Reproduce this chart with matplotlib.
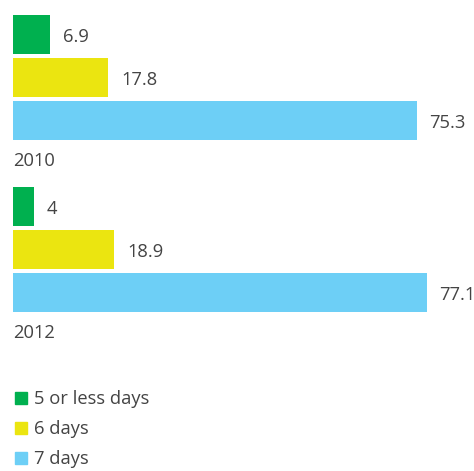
import matplotlib
matplotlib.use("Agg")
import matplotlib.pyplot as plt
from matplotlib.lines import Line2D

# data
years = ["2010", "2012"]
categories = ["5 or less days", "6 days", "7 days"]
values = {
    "2010": [6.9, 17.8, 75.3],
    "2012": [4, 18.9, 77.1],
}
colors = ["#00b04f", "#ebe510", "#6dcff6"]
text_color = "#444444"

plt.rcParams["font.family"] = ["Open Sans", "DejaVu Sans"]
fs = 13.2

W, H = 474, 471
fig = plt.figure(figsize=(W / 100, H / 100), dpi=100)
# x in data units (0 at px 13), y in pixel-like units
px_per_unit = 5.365
left_px = 13
ax = fig.add_axes([left_px / W, 0, 1 - left_px / W, 1])
ax.set_xlim(0, (W - left_px) / px_per_unit)
ax.set_ylim(H, 0)
ax.axis("off")

bar_h = 39
bar_pitch = 43
group_pitch = 172
first_center = 15 + bar_h / 2

for i, year in enumerate(years):
    base = first_center + i * group_pitch
    for j, v in enumerate(values[year]):
        yc = base + j * bar_pitch
        ax.barh(yc, v, height=bar_h, color=colors[j], left=0)
        ax.annotate(f"{v:g}", xy=(v, yc), xytext=(9, -1.5), textcoords="offset points",
                    va="center", ha="left", fontsize=fs, color=text_color)
    ax.text(0, base + 2 * bar_pitch + 40, year, va="center", ha="left",
            fontsize=fs, color=text_color)

# legend
handles = [Line2D([], [], marker="s", linestyle="none", markersize=8,
                  color=c) for c in colors]
leg = fig.legend(handles, categories, loc="upper left",
                 bbox_to_anchor=(5 / W, 1 - 381 / H), frameon=False,
                 handlelength=0.7, handletextpad=0.4, labelspacing=0.66,
                 borderpad=0, fontsize=fs)
for t in leg.get_texts():
    t.set_color(text_color)

fig.savefig("out.png", dpi=100)
